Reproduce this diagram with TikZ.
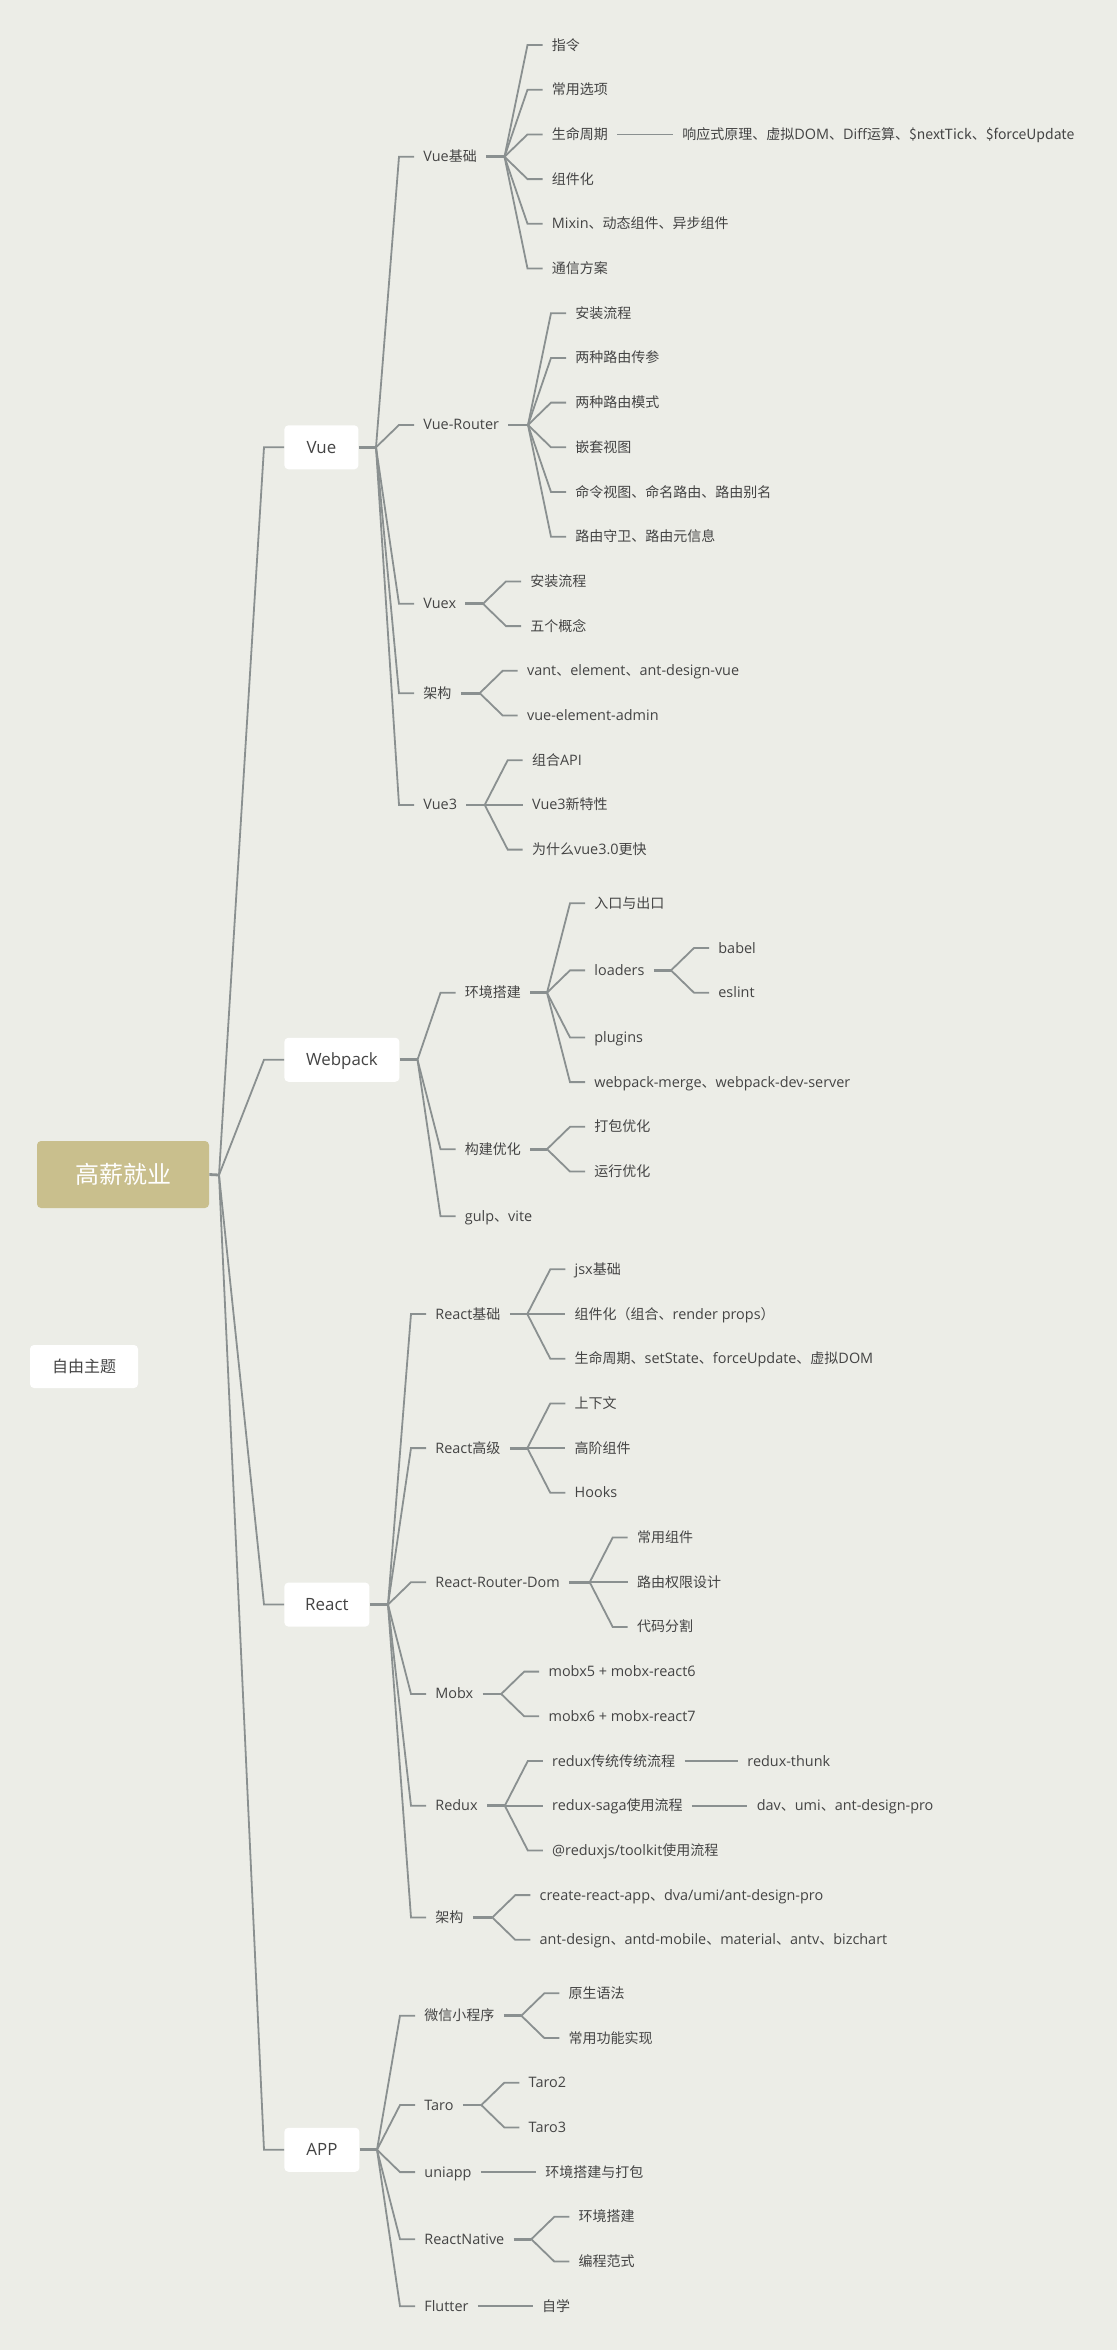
\documentclass[tikz,border=0pt]{standalone}
\usepackage{fontspec}
\setmainfont[Scale=1.03]{Open Sans}
\newfontfamily\cjkfont{Noto Sans CJK SC}
\newfontfamily\latfont[Scale=1.03]{Open Sans}
\chardef\cjkcls=7
\newcount\cjkc
\def\setcjkrange#1#2{\cjkc=#1 \loop \XeTeXcharclass\cjkc=\cjkcls \ifnum\cjkc<#2 \advance\cjkc by 1 \repeat}
\setcjkrange{"3000}{"303F}
\setcjkrange{"4E00}{"9FFF}
\setcjkrange{"FF00}{"FFEF}
\XeTeXinterchartoks 0 \cjkcls = {\cjkfont}
\XeTeXinterchartoks 4095 \cjkcls = {\cjkfont}
\XeTeXinterchartoks \cjkcls 0 = {\latfont}
\XeTeXinterchartokenstate=1
\usetikzlibrary{calc}
\definecolor{bg}{RGB}{236,237,231}
\definecolor{ln}{RGB}{138,144,144}
\definecolor{tx}{RGB}{68,68,68}
\definecolor{rootc}{RGB}{201,191,141}
\newcommand\rV[1]{(45+44.7*(#1))}
\newcommand\rW[1]{(903.3+44.7*(#1))}
\newcommand\rR[1]{(1269.3+44.7*(#1))}
\newcommand\rA[1]{(1993.3+44.7*(#1))}
\newcommand\fan[3]{%
  \draw[stubline] let \p1=(#1.east), \p2=(#2.west) in (\p1) -- (\x2-19pt,\y1) coordinate (#1f);
  \foreach \c in {#3} {\draw[branch] (#1f) -- ([xshift=-7.5pt]\c.west) -- (\c.west);}%
}
\begin{document}
\begin{tikzpicture}[x=0.5pt,y=-0.5pt,
  topic/.style={anchor=west, inner xsep=4.5pt, inner ysep=1pt, text=tx,
    font=\fontsize{7pt}{8pt}\selectfont, text height=6.5pt, text depth=1.5pt},
  mainbox/.style={anchor=west, fill=white, rounded corners=2pt, text=tx,
    font=\fontsize{8.2pt}{9pt}\selectfont, minimum height=22pt, inner xsep=2pt,
    text height=7.5pt, text depth=1.6pt},
  branch/.style={draw=ln, line width=0.9pt},
  stubline/.style={draw=ln, line width=1.4pt},
]
\fill[bg] (0,0) rectangle (1117,2350);
\useasboundingbox (0,0) rectangle (1117,2350);

% root and free topic
\node[fill=rootc, rounded corners=2pt, minimum width=86pt, minimum height=33.5pt,
  text=white, font=\fontsize{12pt}{14pt}\selectfont, text height=10pt, text depth=0.8pt]
  (root) at (123,1174.5) {高薪就业};
\node[fill=white, rounded corners=2pt, minimum width=54pt, minimum height=21.5pt,
  text=tx, font=\fontsize{8pt}{9pt}\selectfont, text height=7pt, text depth=1pt]
  (free) at (84,1366.5) {自由主题};

% main boxes
\node[mainbox, minimum width=37pt] (vue) at (284,{\rV{9}}) {Vue};
\node[mainbox, minimum width=57.5pt] (wp) at (284,{\rW{3.5}}) {Webpack};
\node[mainbox, minimum width=42.5pt] (re) at (284,{\rR{7.5}}) {React};
\node[mainbox, minimum width=37.5pt] (app) at (284,{\rA{3.5}}) {APP};

\coordinate (rootf) at (219,1175);
\draw[stubline] (root.east) -- (rootf);
\foreach \m in {vue,wp,re,app} {\draw[branch] (rootf) -- ([xshift=-10pt]\m.west) -- (\m.west);}

% ---------------- Vue
\node[topic] (vjc) at (414,{\rV{2.5}}) {Vue基础};
\node[topic] (vjc1) at (542.5,{\rV{0}}) {指令};
\node[topic] (vjc2) at (542.5,{\rV{1}}) {常用选项};
\node[topic] (vjc3) at (542.5,{\rV{2}}) {生命周期};
\node[topic] (vjc4) at (542.5,{\rV{3}}) {组件化};
\node[topic] (vjc5) at (542.5,{\rV{4}}) {Mixin、动态组件、异步组件};
\node[topic] (vjc6) at (542.5,{\rV{5}}) {通信方案};
\node[topic] (vjc3a) at (673,{\rV{2}}) {响应式原理、虚拟DOM、Diff运算、\$nextTick、\$forceUpdate};

\node[topic] (vr) at (414,{\rV{8.5}}) {Vue-Router};
\node[topic] (vr1) at (566,{\rV{6}}) {安装流程};
\node[topic] (vr2) at (566,{\rV{7}}) {两种路由传参};
\node[topic] (vr3) at (566,{\rV{8}}) {两种路由模式};
\node[topic] (vr4) at (566,{\rV{9}}) {嵌套视图};
\node[topic] (vr5) at (566,{\rV{10}}) {命令视图、命名路由、路由别名};
\node[topic] (vr6) at (566,{\rV{11}}) {路由守卫、路由元信息};

\node[topic] (vx) at (414,{\rV{12.5}}) {Vuex};
\node[topic] (vx1) at (521,{\rV{12}}) {安装流程};
\node[topic] (vx2) at (521,{\rV{13}}) {五个概念};

\node[topic] (vjg) at (414,{\rV{14.5}}) {架构};
\node[topic] (vjg1) at (517.7,{\rV{14}}) {vant、element、ant-design-vue};
\node[topic] (vjg2) at (517.7,{\rV{15}}) {vue-element-admin};

\node[topic] (v3) at (414,{\rV{17}}) {Vue3};
\node[topic] (v31) at (522.7,{\rV{16}}) {组合API};
\node[topic] (v32) at (522.7,{\rV{17}}) {Vue3新特性};
\node[topic] (v33) at (522.7,{\rV{18}}) {为什么vue3.0更快};

\fan{vue}{vjc}{vjc,vr,vx,vjg,v3}
\fan{vjc}{vjc1}{vjc1,vjc2,vjc3,vjc4,vjc5,vjc6}
\draw[branch] (vjc3.east) -- (vjc3a.west);
\fan{vr}{vr1}{vr1,vr2,vr3,vr4,vr5,vr6}
\fan{vx}{vx1}{vx1,vx2}
\fan{vjg}{vjg1}{vjg1,vjg2}
\fan{v3}{v31}{v31,v32,v33}

% ---------------- Webpack
\node[topic] (wenv) at (455.5,{\rW{2}}) {环境搭建};
\node[topic] (we1) at (585,{\rW{0}}) {入口与出口};
\node[topic] (we2) at (585,{\rW{1.5}}) {loaders};
\node[topic] (wl1) at (709,{\rW{1}}) {babel};
\node[topic] (wl2) at (709,{\rW{2}}) {eslint};
\node[topic] (we3) at (585,{\rW{3}}) {plugins};
\node[topic] (we4) at (585,{\rW{4}}) {webpack-merge、webpack-dev-server};
\node[topic] (wopt) at (455.5,{\rW{5.5}}) {构建优化};
\node[topic] (wo1) at (585,{\rW{5}}) {打包优化};
\node[topic] (wo2) at (585,{\rW{6}}) {运行优化};
\node[topic] (wgv) at (455.5,{\rW{7}}) {gulp、vite};

\fan{wp}{wenv}{wenv,wopt,wgv}
\fan{wenv}{we1}{we1,we2,we3,we4}
\fan{we2}{wl1}{wl1,wl2}
\fan{wopt}{wo1}{wo1,wo2}

% ---------------- React
\node[topic] (rj) at (426,{\rR{1}}) {React基础};
\node[topic] (rj1) at (565.3,{\rR{0}}) {jsx基础};
\node[topic] (rj2) at (565.3,{\rR{1}}) {组件化（组合、render props）};
\node[topic] (rj3) at (565.3,{\rR{2}}) {生命周期、setState、forceUpdate、虚拟DOM};

\node[topic] (rg) at (426,{\rR{4}}) {React高级};
\node[topic] (rg1) at (565.3,{\rR{3}}) {上下文};
\node[topic] (rg2) at (565.3,{\rR{4}}) {高阶组件};
\node[topic] (rg3) at (565.3,{\rR{5}}) {Hooks};

\node[topic] (rrd) at (426,{\rR{7}}) {React-Router-Dom};
\node[topic] (rrd1) at (627.7,{\rR{6}}) {常用组件};
\node[topic] (rrd2) at (627.7,{\rR{7}}) {路由权限设计};
\node[topic] (rrd3) at (627.7,{\rR{8}}) {代码分割};

\node[topic] (mb) at (426,{\rR{9.5}}) {Mobx};
\node[topic] (mb1) at (539.2,{\rR{9}}) {mobx5 + mobx-react6};
\node[topic] (mb2) at (539.2,{\rR{10}}) {mobx6 + mobx-react7};

\node[topic] (rx) at (426,{\rR{12}}) {Redux};
\node[topic] (rx1) at (542.8,{\rR{11}}) {redux传统传统流程};
\node[topic] (rx2) at (542.8,{\rR{12}}) {redux-saga使用流程};
\node[topic] (rx3) at (542.8,{\rR{13}}) {@reduxjs/toolkit使用流程};
\node[topic] (rx1a) at (738,{\rR{11}}) {redux-thunk};
\node[topic] (rx2a) at (747.4,{\rR{12}}) {dav、umi、ant-design-pro};

\node[topic] (rjg) at (426,{\rR{14.5}}) {架构};
\node[topic] (rjg1) at (530.3,{\rR{14}}) {create-react-app、dva/umi/ant-design-pro};
\node[topic] (rjg2) at (530.3,{\rR{15}}) {ant-design、antd-mobile、material、antv、bizchart};

\fan{re}{rj}{rj,rg,rrd,mb,rx,rjg}
\fan{rj}{rj1}{rj1,rj2,rj3}
\fan{rg}{rg1}{rg1,rg2,rg3}
\fan{rrd}{rrd1}{rrd1,rrd2,rrd3}
\fan{mb}{mb1}{mb1,mb2}
\fan{rx}{rx1}{rx1,rx2,rx3}
\draw[branch] (rx1.east) -- (rx1a.west);
\draw[branch] (rx2.east) -- (rx2a.west);
\fan{rjg}{rjg1}{rjg1,rjg2}

% ---------------- APP
\node[topic] (wx) at (415,{\rA{0.5}}) {微信小程序};
\node[topic] (wx1) at (559.3,{\rA{0}}) {原生语法};
\node[topic] (wx2) at (559.3,{\rA{1}}) {常用功能实现};
\node[topic] (taro) at (415,{\rA{2.5}}) {Taro};
\node[topic] (t1) at (519.3,{\rA{2}}) {Taro2};
\node[topic] (t2) at (519.3,{\rA{3}}) {Taro3};
\node[topic] (uni) at (415,{\rA{4}}) {uniapp};
\node[topic] (uni1) at (536,{\rA{4}}) {环境搭建与打包};
\node[topic] (rn) at (415,{\rA{5.5}}) {ReactNative};
\node[topic] (rn1) at (569.3,{\rA{5}}) {环境搭建};
\node[topic] (rn2) at (569.3,{\rA{6}}) {编程范式};
\node[topic] (fl) at (415,{\rA{7}}) {Flutter};
\node[topic] (fl1) at (532.7,{\rA{7}}) {自学};

\fan{app}{wx}{wx,taro,uni,rn,fl}
\fan{wx}{wx1}{wx1,wx2}
\fan{taro}{t1}{t1,t2}
\draw[branch] (uni.east) -- (uni1.west);
\fan{rn}{rn1}{rn1,rn2}
\draw[branch] (fl.east) -- (fl1.west);
\end{tikzpicture}
\end{document}
